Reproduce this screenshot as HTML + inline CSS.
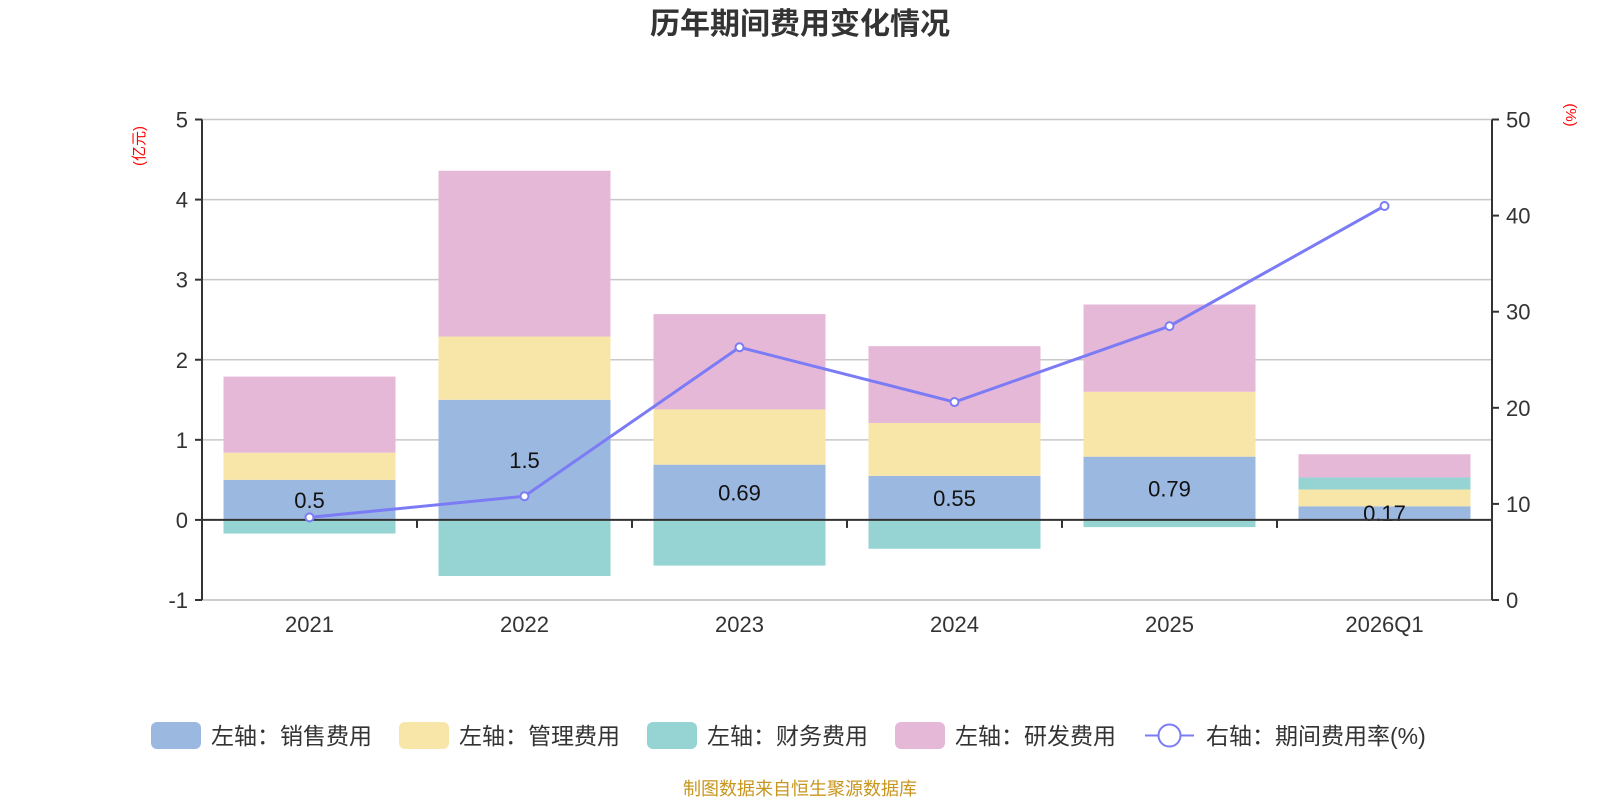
<!DOCTYPE html>
<html><head><meta charset="utf-8"><style>
html,body{margin:0;padding:0;background:#fff;width:1600px;height:800px;overflow:hidden}
svg text{font-family:"Liberation Sans","Noto Sans CJK SC",sans-serif}
</style></head><body>
<svg id="chart" width="1600" height="800" xmlns="http://www.w3.org/2000/svg">
<text x="800" y="34" text-anchor="middle" font-size="30" font-weight="bold" fill="#333">历年期间费用变化情况</text>
<text transform="translate(144,146) rotate(-90)" text-anchor="middle" font-size="15" fill="#f00">(亿元)</text>
<text transform="translate(1566,115) rotate(90)" text-anchor="middle" font-size="15" fill="#f00">(%)</text>
<g id="grid"></g><g id="bars"></g><g id="axes"></g><g id="line"></g>
<g id="legend"></g>
<text x="800" y="795" text-anchor="middle" font-size="18" fill="#c8961e">制图数据来自恒生聚源数据库</text>
</svg>
<script>
const categories=["2021","2022","2023","2024","2025","2026Q1"];
const sales=[0.50,1.50,0.69,0.55,0.79,0.17];
const mgmt=[0.34,0.79,0.69,0.66,0.81,0.21];
const fin=[-0.17,-0.70,-0.57,-0.36,-0.09,0.15];
const rd=[0.95,2.07,1.19,0.96,1.09,0.29];
const rate=[8.6,10.8,26.3,20.6,28.5,41.0];
const leftTicks=[-1,0,1,2,3,4,5];
const rightTicks=[0,10,20,30,40,50];
const NS="http://www.w3.org/2000/svg";
const X0=202,X1=1492,YT=119.5,YB=600;
const band=(X1-X0)/categories.length;
const yL=v=>YB-(v+1)/6*(YB-YT);
const yR=v=>YB-v/50*(YB-YT);
const xC=i=>X0+band*(i+0.5);
function mk(p,tag,a){const e=document.createElementNS(NS,tag);for(const k in a)e.setAttribute(k,a[k]);p.appendChild(e);return e;}
const grid=document.getElementById('grid'),bars=document.getElementById('bars'),axes=document.getElementById('axes'),line=document.getElementById('line'),leg=document.getElementById('legend');
leftTicks.forEach(t=>{
 if(t!==0){const g=mk(grid,'line',{x1:X0,x2:X1,y1:yL(t),y2:yL(t),stroke:'#c8c8c8','stroke-width':1.5});
 
 }
 const tk=mk(axes,'line',{x1:X0-7,x2:X0,y1:yL(t),y2:yL(t),stroke:'#333','stroke-width':2});
 
 
 const tx=mk(axes,'text',{x:X0-14,y:yL(t)+8,'text-anchor':'end','font-size':22,fill:'#333'});tx.textContent=t;
 
 
});
rightTicks.forEach(t=>{
 const tk=mk(axes,'line',{x1:X1,x2:X1+7,y1:yR(t),y2:yR(t),stroke:'#333','stroke-width':2});
 
 
 const tx=mk(axes,'text',{x:X1+14,y:yR(t)+8,'font-size':22,fill:'#333'});tx.textContent=t;
 
 
});
const colors={sales:'#9bb8e0',mgmt:'#f7e6a8',fin:'#96d3d3',rd:'#e6b8d8'};
const series=[['sales',sales],['mgmt',mgmt],['fin',fin],['rd',rd]];
const bw=band*0.8;
categories.forEach((c,i)=>{
 let pos=0,neg=0;
 series.forEach(([k,arr])=>{
  const v=arr[i];let a,b;
  if(v>=0){a=pos;b=pos+v;pos=b;}else{a=neg;b=neg+v;neg=b;}
  const r=mk(bars,'rect',{x:xC(i)-bw/2,y:Math.min(yL(a),yL(b)),width:bw,height:Math.abs(yL(a)-yL(b)),fill:colors[k]});
  
  
 });
 const lb=mk(bars,'text',{x:xC(i),y:(yL(0)+yL(sales[i]))/2+8,'text-anchor':'middle','font-size':22,fill:'#111'});
 lb.textContent=sales[i];
 
 
 const xl=mk(axes,'text',{x:xC(i),y:632,'text-anchor':'middle','font-size':22,fill:'#333'});xl.textContent=c;
 
 
 if(i>0){const tk=mk(axes,'line',{x1:X0+band*i,x2:X0+band*i,y1:yL(0),y2:yL(0)+8,stroke:'#333','stroke-width':2});
 
 }
});
const bl=mk(axes,'line',{x1:X0,x2:X1,y1:YB,y2:YB,stroke:'#c8c8c8','stroke-width':1.5});


const za=mk(axes,'line',{x1:X0,x2:X1,y1:yL(0),y2:yL(0),stroke:'#333','stroke-width':2});


const la=mk(axes,'line',{x1:X0,x2:X0,y1:YT,y2:YB,stroke:'#333','stroke-width':2});


const ra=mk(axes,'line',{x1:X1,x2:X1,y1:YT,y2:YB,stroke:'#333','stroke-width':2});


const pl=mk(line,'polyline',{points:rate.map((v,i)=>xC(i)+','+yR(v)).join(' '),fill:'none',stroke:'#7b7bf5','stroke-width':3});


rate.forEach((v,i)=>{const p=mk(line,'circle',{cx:xC(i),cy:yR(v),r:4,fill:'#fff',stroke:'#7b7bf5','stroke-width':2});
 
 });
const legItems=[['左轴：销售费用',colors.sales,151],['左轴：管理费用',colors.mgmt,399],['左轴：财务费用',colors.fin,647],['左轴：研发费用',colors.rd,895]];
legItems.forEach(([t,c,x])=>{
 const r=mk(leg,'rect',{x:x,y:722,width:50,height:27,rx:6,fill:c});
 
 
 const tx=mk(leg,'text',{x:x+60,y:744,'font-size':23,fill:'#333'});tx.textContent=t;
 
 
});
const ll=mk(leg,'line',{x1:1145,x2:1194,y1:735.5,y2:735.5,stroke:'#7b7bf5','stroke-width':2});


const lc=mk(leg,'circle',{cx:1169.5,cy:735.5,r:11,fill:'#fff',stroke:'#7b7bf5','stroke-width':2});


const lt=mk(leg,'text',{x:1206,y:744,'font-size':23,fill:'#333'});lt.textContent='右轴：期间费用率(%)';


</script>
</body></html>
